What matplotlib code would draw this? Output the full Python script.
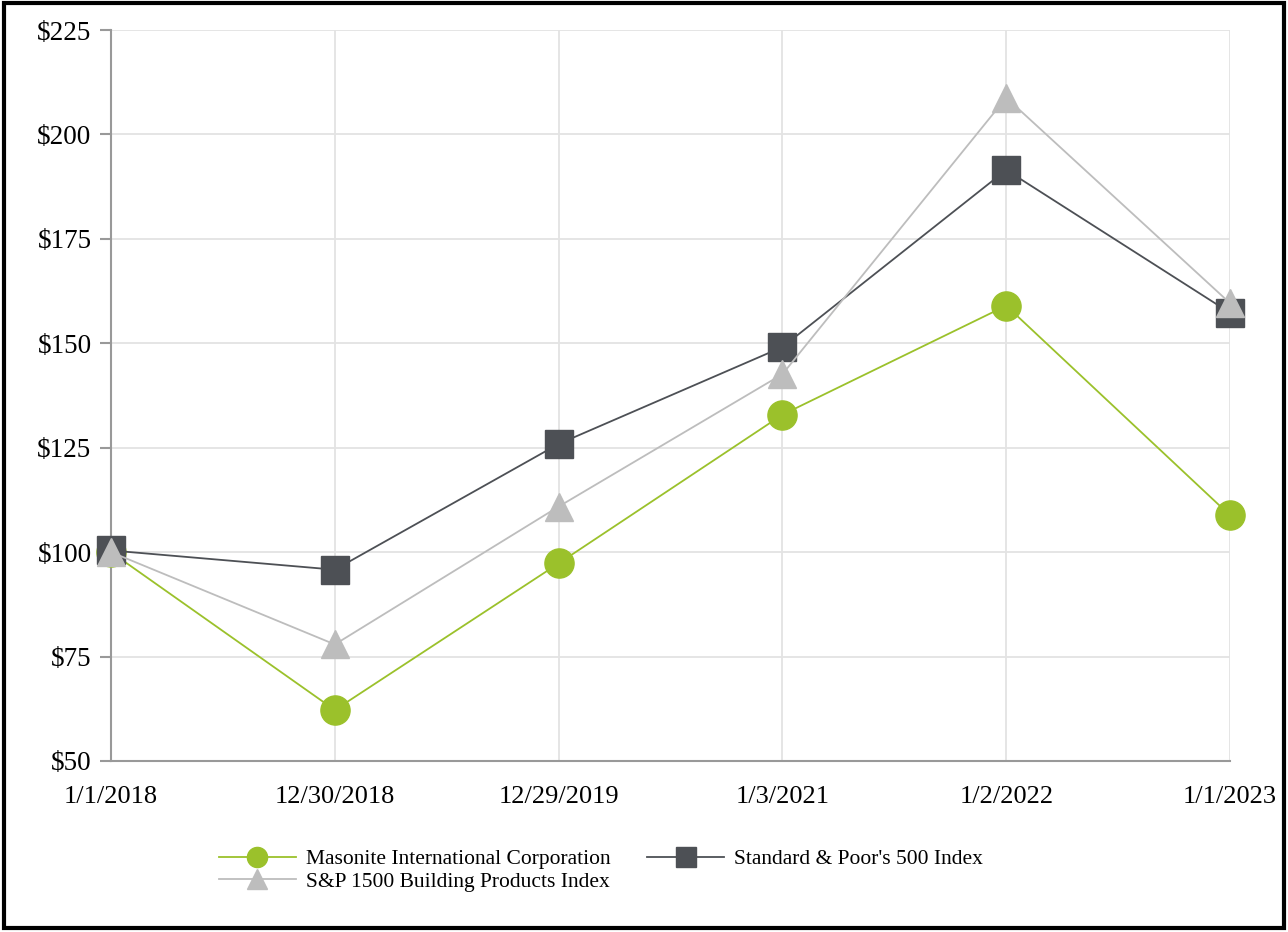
import matplotlib
matplotlib.use('Agg')
from matplotlib import pyplot as plt
from matplotlib.patches import Rectangle

# Kumulatiivinen tuotto, 100 $ sijoitus 1/1/2018
paivat = ['1/1/2018', '12/30/2018', '12/29/2019', '1/3/2021', '1/2/2022', '1/1/2023']
masonite = [100.0, 62.2, 97.3, 132.9, 159.0, 108.8]
sp500 = [100.4, 95.8, 125.9, 149.1, 191.5, 157.3]
sp1500_rak = [100.0, 77.9, 110.9, 142.6, 208.8, 159.6]

plt.rcParams['font.family'] = ['Liberation Serif', 'DejaVu Serif']

fig = plt.figure(figsize=(12.88, 9.32), dpi=100)
ax = fig.add_axes([0.0862, 0.1835, 0.8688, 0.7843])

x = list(range(len(paivat)))
l1, = ax.plot(x, masonite, color='#9bc12b', lw=1.3, marker='o', ms=21,
              label='Masonite International Corporation', zorder=3, clip_on=False)
l2, = ax.plot(x, sp500, color='#4d5055', lw=1.3, marker='s', ms=20,
              label="Standard & Poor's 500 Index", zorder=4, clip_on=False)
l3, = ax.plot(x, sp1500_rak, color='#bdbdbd', lw=1.3, marker='^', ms=20,
              label='S&P 1500 Building Products Index', zorder=5, clip_on=False)

ax.set_xlim(0, 5)
ax.set_ylim(50, 225)
ax.set_yticks(range(50, 226, 25))
ax.set_yticklabels([f'${v}' for v in range(50, 226, 25)])
ax.set_xticks(x)
ax.set_xticklabels(paivat)

ax.grid(True, color='#e3e3e3', lw=1.3)
ax.set_axisbelow(True)
for s in ['top', 'right']:
    ax.spines[s].set_visible(False)
for s in ['left', 'bottom']:
    ax.spines[s].set_color('#999999')
    ax.spines[s].set_linewidth(1.5)
ax.tick_params(axis='y', length=8, color='#999999', width=1.5, labelsize=19.5, pad=6)
ax.tick_params(axis='x', length=0, labelsize=19, pad=18)

leg = fig.legend([l1, l3, l2], [l1.get_label(), l3.get_label(), l2.get_label()],
                 ncol=2, loc='upper left',
                 bbox_to_anchor=(0.163, 0.098), frameon=False, fontsize=15.5,
                 handlelength=3.6, labelspacing=0.12, columnspacing=1.7,
                 handletextpad=0.45, borderaxespad=0)
for h in leg.legend_handles:
    h.set_markersize(14.5)

fig.add_artist(Rectangle((0.003, 0.004), 0.994, 0.993, transform=fig.transFigure,
                         fill=False, edgecolor='black', lw=3))

plt.savefig('out.png', dpi=100)
